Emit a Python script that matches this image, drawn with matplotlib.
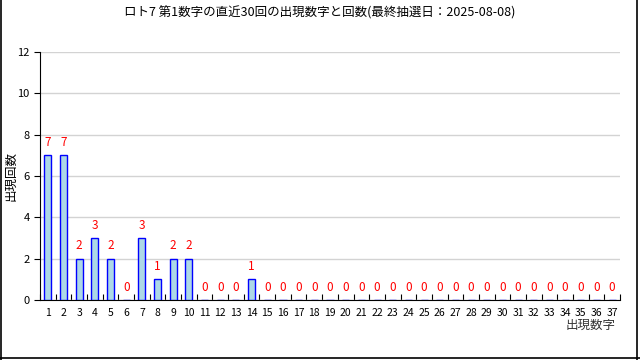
import numpy as np
import matplotlib.pyplot as plt
from matplotlib.lines import Line2D

plt.rcParams['font.family'] = ['Noto Sans CJK JP', 'DejaVu Sans']

# データ
numbers = list(range(1, 38))
counts = [7, 7, 2, 3, 2, 0, 3, 1, 2, 2, 0, 0, 0, 1] + [0] * 23
title = 'ロト7 第1数字の直近30回の出現数字と回数(最終抽選日：2025-08-08)'

fig = plt.figure(figsize=(6.4, 3.6), dpi=100)
ax = fig.add_axes([40 / 640, 60 / 360, 580 / 640, 248 / 360])

ax.bar(numbers, counts, width=0.45, color='#add8e6', edgecolor='blue', linewidth=1, zorder=3)
for n, c in zip(numbers, counts):
    ax.text(n, c + 0.3, str(c), color='red', ha='center', va='bottom', fontsize=8.5, zorder=4)

ax.set_xlim(0.5, 37.5)
ax.set_ylim(0, 12)
ax.set_yticks(np.arange(0, 13, 2))
ax.set_xticks(numbers)
ax.set_xticks(np.arange(0.5, 38, 1), minor=True)
ax.tick_params(axis='x', which='major', length=0, labelsize=7.5, pad=6)
ax.tick_params(axis='x', which='minor', direction='in', length=4, width=0.8)
ax.tick_params(axis='y', labelsize=8, length=4, width=0.8)
ax.grid(axis='y', color='#d3d3d3', linewidth=1, zorder=0)
ax.spines['top'].set_visible(False)
ax.spines['right'].set_visible(False)

# 軸ラベル
fig.text(11 / 640, 184 / 360, '出現回数', rotation=90, ha='center', va='center', fontsize=9)
ax.text(0.993, -0.075, '出現数字', transform=ax.transAxes, ha='right', va='top', fontsize=9, color='#333333')
fig.text(0.5, 0.965, title, ha='center', va='center', fontsize=9)

# 外枠(左・右・下)
for xs, ys in [([0.001, 0.001], [0, 1]), ([0.996, 0.996], [0, 1]), ([0, 1], [0.005, 0.005])]:
    fig.lines.append(Line2D(xs, ys, transform=fig.transFigure, color='black', linewidth=1.2))

plt.savefig('out.png', dpi=100)
